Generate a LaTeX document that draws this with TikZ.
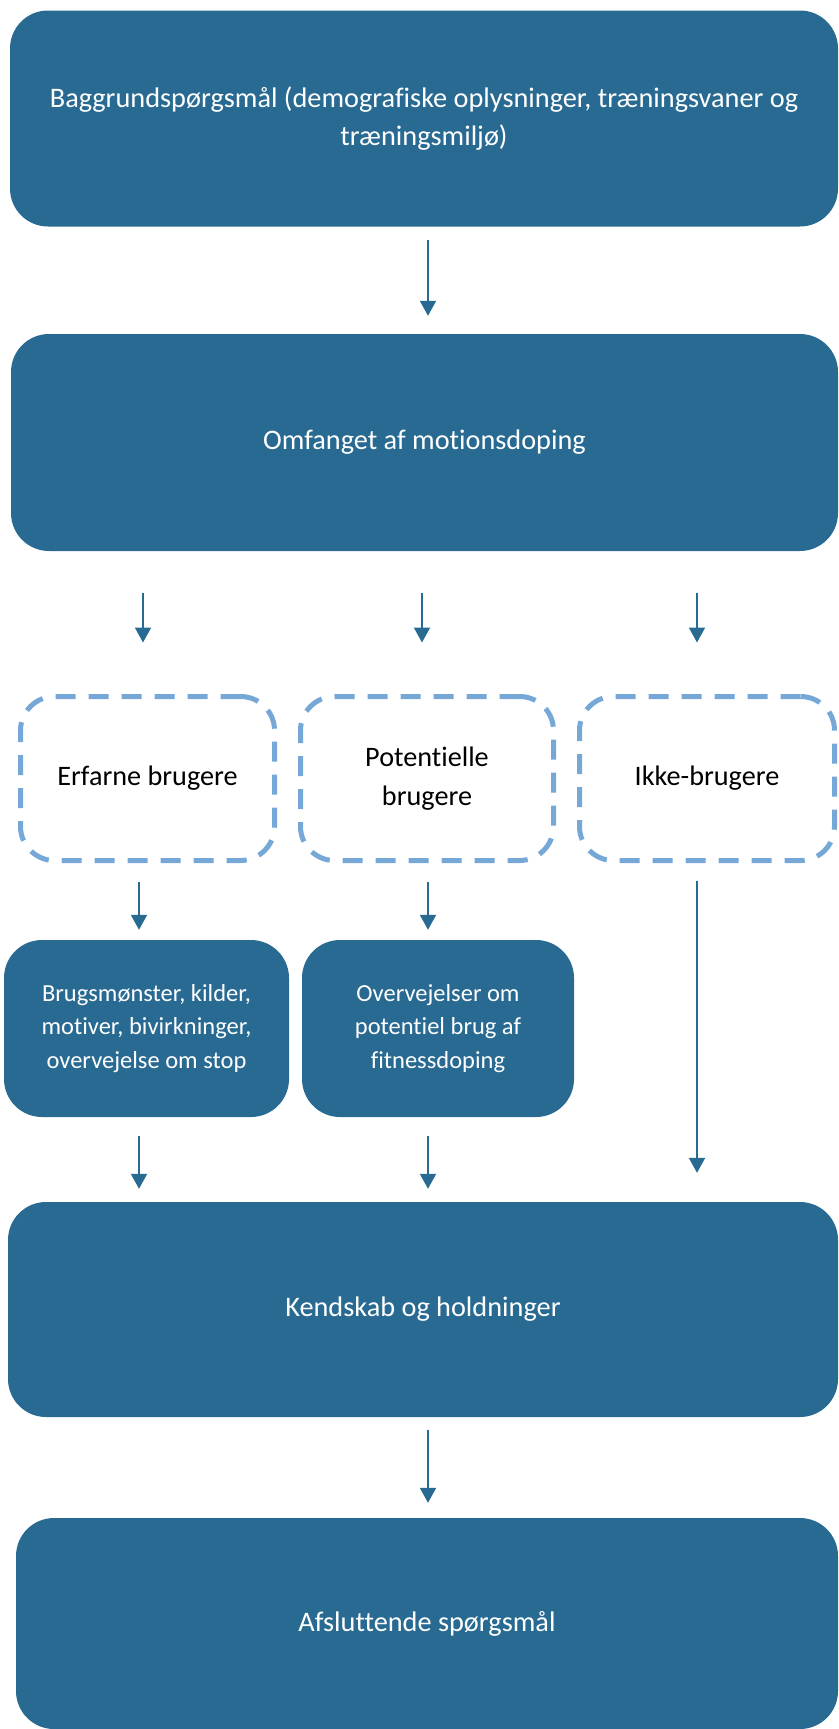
\documentclass[tikz,border=0pt]{standalone}
\usepackage{fontspec}
\setmainfont[Ligatures={NoCommon,NoContextual}, Contextuals=NoAlternate]{Carlito}
\usetikzlibrary{arrows.meta, positioning}
\definecolor{boxblue}{RGB}{40,106,146}
\definecolor{dashblue}{RGB}{117,168,215}
\tikzset{
  bigbox/.style   = {fill=boxblue, text=white, rounded corners=38pt,
                     align=center, inner sep=0pt,
                     font=\fontsize{28.3}{38.5}\selectfont},
  smallbox/.style = {fill=boxblue, text=white, rounded corners=38pt,
                     align=center, inner sep=0pt,
                     font=\fontsize{24.5}{33.5}\selectfont},
  groupbox/.style = {draw=dashblue, line width=5pt, dash pattern=on 20pt off 13pt,
                     rounded corners=34pt, align=center, inner sep=0pt,
                     font=\fontsize{28.2}{38.5}\selectfont},
  flow/.style     = {-{Triangle[width=16pt,length=15pt]}, line width=2pt, boxblue},
}

\begin{document}
\begin{tikzpicture}[x=1pt, y=-1pt]
    \useasboundingbox (0,0) rectangle (838,1729);

    \node[bigbox, minimum width=828pt, minimum height=216pt] (baggrund) at (424,118.5)
      {Baggrundspørgsmål (demografiske oplysninger, træningsvaner og\\træningsmiljø)};
    \node[bigbox, minimum width=827pt, minimum height=217pt] (omfang) at (424.5,442.5)
      {Omfanget af motionsdoping};

    \node[groupbox, minimum width=254pt, minimum height=164pt] (erfarne) at (147.5,778.5)
      {Erfarne brugere};
    \node[groupbox, minimum width=253pt, minimum height=164pt] (potentiel) at (427,778.5)
      {Potentielle\\brugere};
    \node[groupbox, minimum width=255pt, minimum height=164pt] (ikke) at (707,778.5)
      {Ikke-brugere};

    \node[smallbox, minimum width=285pt, minimum height=177pt] (brug) at (146.5,1028.5)
      {Brugsmønster, kilder,\\motiver, bivirkninger,\\overvejelse om stop};
    \node[smallbox, minimum width=272pt, minimum height=177pt] (overvej) at (438,1028.5)
      {Overvejelser om\\potentiel brug af\\fitnessdoping};

    \node[bigbox, minimum width=830pt, minimum height=215pt] (kendskab) at (423,1309.5)
      {Kendskab og holdninger};
    \node[bigbox, minimum width=822pt, minimum height=211pt] (afslut) at (427,1623.5)
      {Afsluttende spørgsmål};

    \draw[flow] ([xshift=4pt,yshift=-13pt]baggrund.south) -- ([xshift=4pt,yshift=18pt]baggrund.south |- omfang.north);

    \draw[flow] ([xshift=-4.5pt,yshift=-42pt]erfarne.north |- omfang.south) -- ([xshift=-4.5pt,yshift=51.5pt]erfarne.north);
    \draw[flow] ([xshift=-5pt,yshift=-42pt]potentiel.north |- omfang.south) -- ([xshift=-5pt,yshift=51.5pt]potentiel.north);
    \draw[flow] ([xshift=-10pt,yshift=-42pt]ikke.north |- omfang.south) -- ([xshift=-10pt,yshift=51.5pt]ikke.north);

    \draw[flow] ([xshift=-7.5pt,yshift=-18.5pt]brug.north |- erfarne.south) -- ([xshift=-7.5pt,yshift=10pt]brug.north);
    \draw[flow] ([xshift=1pt,yshift=-18.5pt]potentiel.south) -- ([xshift=1pt,yshift=10pt]potentiel.south |- overvej.north);
    \draw[flow] ([xshift=-10pt,yshift=-17.5pt]ikke.south) -- ([xshift=-10pt,yshift=29pt]ikke.south |- kendskab.north);

    \draw[flow] ([xshift=-7.5pt,yshift=-19pt]brug.south) -- ([xshift=-7.5pt,yshift=13pt]brug.south |- kendskab.north);
    \draw[flow] ([xshift=-10pt,yshift=-19pt]overvej.south) -- ([xshift=-10pt,yshift=13pt]overvej.south |- kendskab.north);

    \draw[flow] ([xshift=5pt,yshift=-13pt]kendskab.south) -- ([xshift=5pt,yshift=15pt]kendskab.south |- afslut.north);
  \end{tikzpicture}
\end{document}
